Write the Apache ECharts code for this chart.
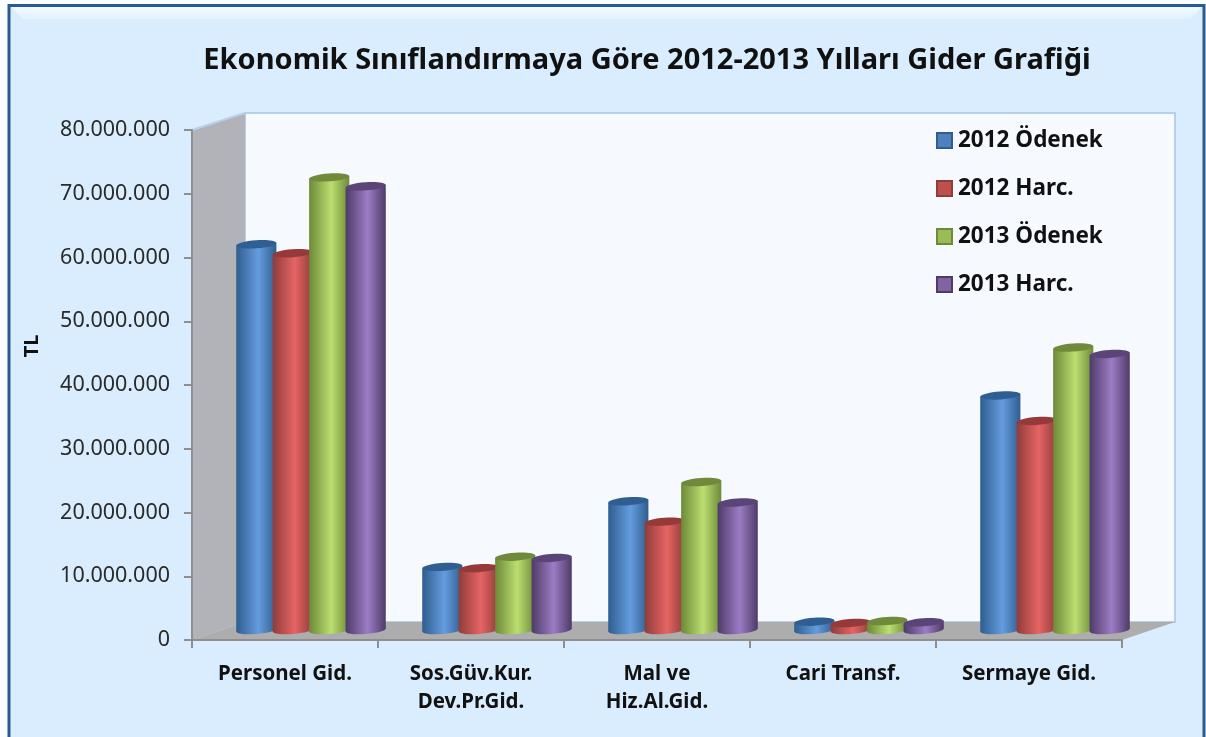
<!DOCTYPE html>
<html>
<head>
<meta charset="utf-8">
<style>
    html, body { margin: 0; padding: 0; background: #fbfdff; }
    #main { width: 1206px; height: 737px; }
</style>
<script src="https://cdn.jsdelivr.net/npm/echarts@6/dist/echarts.min.js"></script>
</head>
<body>
<div id="main"></div>
<script>
let categories = ['Personel Gid.', 'Sos.Güv.Kur.\nDev.Pr.Gid.', 'Mal ve\nHiz.Al.Gid.', 'Cari Transf.', 'Sermaye Gid.'];
let odenek2012 = [60500000, 9900000, 20200000, 1300000, 36800000];
let harc2012 = [59100000, 9700000, 17000000, 1100000, 32800000];
let odenek2013 = [71000000, 11500000, 23200000, 1400000, 44300000];
let harc2013 = [69600000, 11300000, 20000000, 1200000, 43300000];
let seriesNames = ['2012 Ödenek', '2012 Harc.', '2013 Ödenek', '2013 Harc.'];

// 3B görünüm: arka duvar ön düzleme göre kayması
const gridL = 192, gridR = 1122, gridT = 130, gridB = 640;
const wallDx = 53, wallDy = 18;
const barDx = 26, barDy = 10; // silindirler derinliğin ortasında

// kenar, orta, üst kapak
let palette = [
    { edge: '#2f5d8e', mid: '#659cdf', top: '#2f5f92', flat: '#4f81bd' },
    { edge: '#8f3d3a', mid: '#e66464', top: '#953a38', flat: '#c0504d' },
    { edge: '#6c8a38', mid: '#bcde70', top: '#71893a', flat: '#9bbb59' },
    { edge: '#4e3b68', mid: '#9c7cc4', top: '#5b4478', flat: '#8064a2' }
];

function cylinder(colors, index) {
    return function (params, api) {
        let band = api.size([1, 0])[0];
        let step = band * 0.196;
        let rx = band * 0.108;
        let ry = 4;
        let tilt = 1.4;
        let top = api.coord([api.value(0), api.value(1)]);
        let base = api.coord([api.value(0), 0]);
        let cx = top[0] + barDx + (index - 1.5) * step;
        let yTop = top[1] - barDy;
        let yBase = base[1] - barDy;
        let body = new echarts.graphic.LinearGradient(0, 0, 1, 0, [
            { offset: 0, color: colors.edge },
            { offset: 0.55, color: colors.mid },
            { offset: 1, color: colors.edge }
        ]);
        return {
            type: 'group',
            children: [
                {
                    type: 'ellipse',
                    shape: { cx: cx, cy: yBase, rx: rx, ry: ry },
                    originX: cx, originY: yBase, rotation: 0.07,
                    style: { fill: body }
                },
                {
                    type: 'polygon',
                    shape: { points: [[cx - rx, yTop + tilt], [cx - rx, yBase + tilt], [cx + rx, yBase - tilt], [cx + rx, yTop - tilt]] },
                    style: { fill: body }
                },
                {
                    type: 'ellipse',
                    shape: { cx: cx, cy: yTop, rx: rx, ry: ry },
                    originX: cx, originY: yTop, rotation: 0.07,
                    style: { fill: colors.top }
                }
            ]
        };
    };
}

function barSeries(name, values, index) {
    return {
        name: name,
        type: 'custom',
        renderItem: cylinder(palette[index], index),
        itemStyle: { color: palette[index].flat, borderColor: palette[index].edge, borderWidth: 1 },
        encode: { x: 0, y: 1 },
        data: values.map(function (v, i) { return [i, v]; })
    };
}

let myChart = echarts.init(document.getElementById('main'));
let option = {
    animation: false,
    textStyle: { fontFamily: '"Noto Sans"' },
    title: {
        text: 'Ekonomik Sınıflandırmaya Göre 2012-2013 Yılları Gider Grafiği',
        left: 642,
        top: 41,
        textAlign: 'center',
        textStyle: { fontSize: 29, fontWeight: 'bold', color: '#111', fontFamily: '"Noto Sans"' }
    },
    legend: {
        orient: 'vertical',
        left: 931,
        top: 124,
        itemWidth: 15,
        itemHeight: 15,
        itemGap: 25,
        icon: 'rect',
        data: seriesNames,
        textStyle: { fontSize: 22.5, fontWeight: 'bold', color: '#111', padding: [0, 0, 0, 1] }
    },
    grid: { left: gridL, right: 1206 - gridR, top: gridT, bottom: 737 - gridB },
    xAxis: {
        type: 'category',
        data: categories,
        axisLine: { lineStyle: { color: '#8f8f8f', width: 2 } },
        axisTick: { show: true, length: 8, lineStyle: { color: '#8f8f8f', width: 2 } },
        axisLabel: { interval: 0, margin: 20, fontSize: 20.5, fontWeight: 'bold', color: '#111', lineHeight: 28 }
    },
    yAxis: {
        type: 'value',
        min: 0,
        max: 80000000,
        interval: 10000000,
        name: 'TL',
        nameLocation: 'middle',
        nameGap: 150,
        nameRotate: 90,
        nameTextStyle: { fontSize: 20, fontWeight: 'bold', color: '#111', padding: [0, 0, 0, 78] },
        axisLine: { show: true, lineStyle: { color: '#8f8f8f', width: 2 } },
        axisTick: { show: true, length: 8, lineStyle: { color: '#8f8f8f', width: 2 } },
        splitLine: { show: false },
        axisLabel: {
            margin: 22,
            fontSize: 21.5,
            color: '#2a2a2a',
            formatter: function (v) { return String(v).replace(/\B(?=(\d{3})+$)/g, '.'); }
        }
    },
    graphic: [
        {
            type: 'rect', z: -20,
            shape: { x: 9, y: 5.5, width: 1195, height: 740 },
            style: { fill: '#daedfe', stroke: '#2a5a94', lineWidth: 3 }
        },
        {
            type: 'polygon', z: -19,
            shape: { points: [[11, 7], [1202, 7], [1190, 19], [23, 19]] },
            style: { fill: new echarts.graphic.LinearGradient(0, 0, 0, 1, [
                { offset: 0, color: '#f1f9ff' },
                { offset: 1, color: '#e2f2ff' }
            ]) }
        },
        {
            type: 'polygon', z: -10,
            shape: { points: [[gridL + wallDx, gridT - wallDy + 1], [gridR + wallDx, gridT - wallDy + 1], [gridR + wallDx, gridB - wallDy], [gridL + wallDx, gridB - wallDy]] },
            style: { fill: '#f6faff', stroke: '#b7d0ea', lineWidth: 2 }
        },
        {
            type: 'polygon', z: -9,
            shape: { points: [[gridL, gridT], [gridL + wallDx, gridT - wallDy + 1], [gridL + wallDx, gridB - wallDy], [gridL, gridB]] },
            style: { fill: '#b1b3b8' }
        },
        {
            type: 'polygon', z: -9,
            shape: { points: [[gridL, gridB], [gridL + wallDx, gridB - wallDy], [gridR + wallDx, gridB - wallDy], [gridR, gridB]] },
            style: { fill: '#adadad' }
        },
        {
            type: 'polyline', z: -8,
            shape: { points: [[gridL, gridT], [gridL + wallDx, gridT - wallDy + 1]] },
            style: { stroke: '#b7d0ea', lineWidth: 2, fill: 'none' }
        }
    ],
    series: [
        barSeries(seriesNames[0], odenek2012, 0),
        barSeries(seriesNames[1], harc2012, 1),
        barSeries(seriesNames[2], odenek2013, 2),
        barSeries(seriesNames[3], harc2013, 3)
    ]
};
myChart.setOption(option);
</script>
</body>
</html>
